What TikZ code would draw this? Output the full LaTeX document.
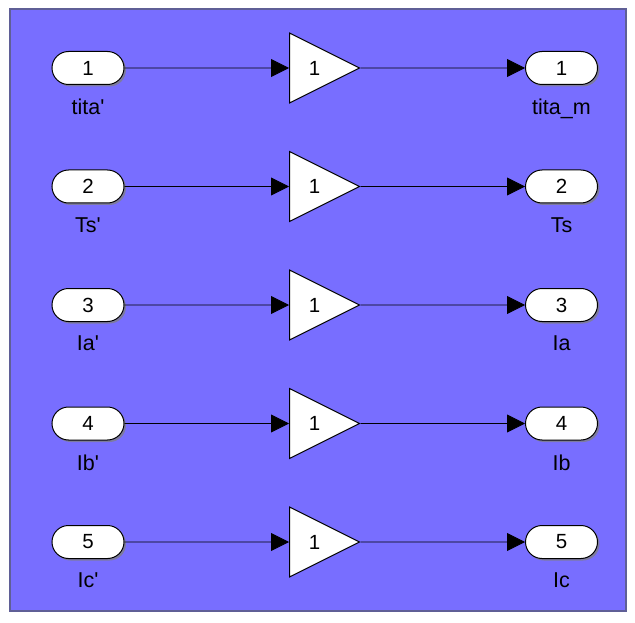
\documentclass[tikz,border=0pt]{standalone}
\usepackage{fontspec}
\setmainfont{Liberation Sans}
\usetikzlibrary{shapes.geometric,shapes.misc,arrows.meta,shadows,positioning}
\definecolor{blockbg}{RGB}{120,110,255}
\definecolor{blockedge}{RGB}{95,95,150}

\begin{document}
\begin{tikzpicture}[x=1pt, y=-1pt,
  port/.style={rounded rectangle, draw, fill=white, line width=1pt,
               minimum width=72pt, minimum height=33pt, inner sep=0pt,
               font=\fontsize{20.5}{24}\selectfont,
               drop shadow={shadow xshift=2pt, shadow yshift=-2pt, opacity=0.75}},
  gain/.style={isosceles triangle, isosceles triangle apex angle=53.13,
               isosceles triangle stretches, draw, fill=white, line width=1pt,
               minimum width=70pt, minimum height=70pt, inner sep=0pt,
               font=\fontsize{20.5}{24}\selectfont, anchor=west,
               execute at begin node=\hspace*{8pt}},
  sig/.style={-{Triangle[length=18pt,width=18pt]}, line width=0.8pt},
  lbl/.style={font=\fontsize{21.5}{25}\selectfont, inner sep=0pt}
]
\useasboundingbox (0,0) rectangle (635,623);
\draw[blockedge, fill=blockbg, line width=1.5pt] (10,9) rectangle (626,611);

% inports
\node[port] (in1) at (88,68)    {1};
\node[port] (in2) at (88,186.5) {2};
\node[port] (in3) at (88,305)   {3};
\node[port] (in4) at (88,423.5) {4};
\node[port] (in5) at (88,542)   {5};

% gains
\node[gain] (g1) at (289,68)    {1};
\node[gain] (g2) at (289,186.5) {1};
\node[gain] (g3) at (289,305)   {1};
\node[gain] (g4) at (289,423.5) {1};
\node[gain] (g5) at (289,542)   {1};

% outports
\node[port] (out1) at (561.5,68)    {1};
\node[port] (out2) at (561.5,186.5) {2};
\node[port] (out3) at (561.5,305)   {3};
\node[port] (out4) at (561.5,423.5) {4};
\node[port] (out5) at (561.5,542)   {5};

% port names
\node[lbl, below=14pt of in1] (nin1) {tita\textquotesingle};
\node[lbl, below=14pt of in2] (nin2) {Ts\textquotesingle};
\node[lbl, below=14pt of in3] (nin3) {Ia\textquotesingle};
\node[lbl, below=14pt of in4] (nin4) {Ib\textquotesingle};
\node[lbl, below=14pt of in5] (nin5) {Ic\textquotesingle};
\node[lbl, below=14pt of out1] (nout1) {tita\_m};
\node[lbl, below=14pt of out2] (nout2) {Ts};
\node[lbl, below=14pt of out3] (nout3) {Ia};
\node[lbl, below=14pt of out4] (nout4) {Ib};
\node[lbl, below=14pt of out5] (nout5) {Ic};

% signals
\draw[sig] (in1) -- (g1);
\draw[sig] (in2) -- (g2);
\draw[sig] (in3) -- (g3);
\draw[sig] (in4) -- (g4);
\draw[sig] (in5) -- (g5);
\draw[sig] (g1.apex) -- (out1);
\draw[sig] (g2.apex) -- (out2);
\draw[sig] (g3.apex) -- (out3);
\draw[sig] (g4.apex) -- (out4);
\draw[sig] (g5.apex) -- (out5);
\end{tikzpicture}
\end{document}
